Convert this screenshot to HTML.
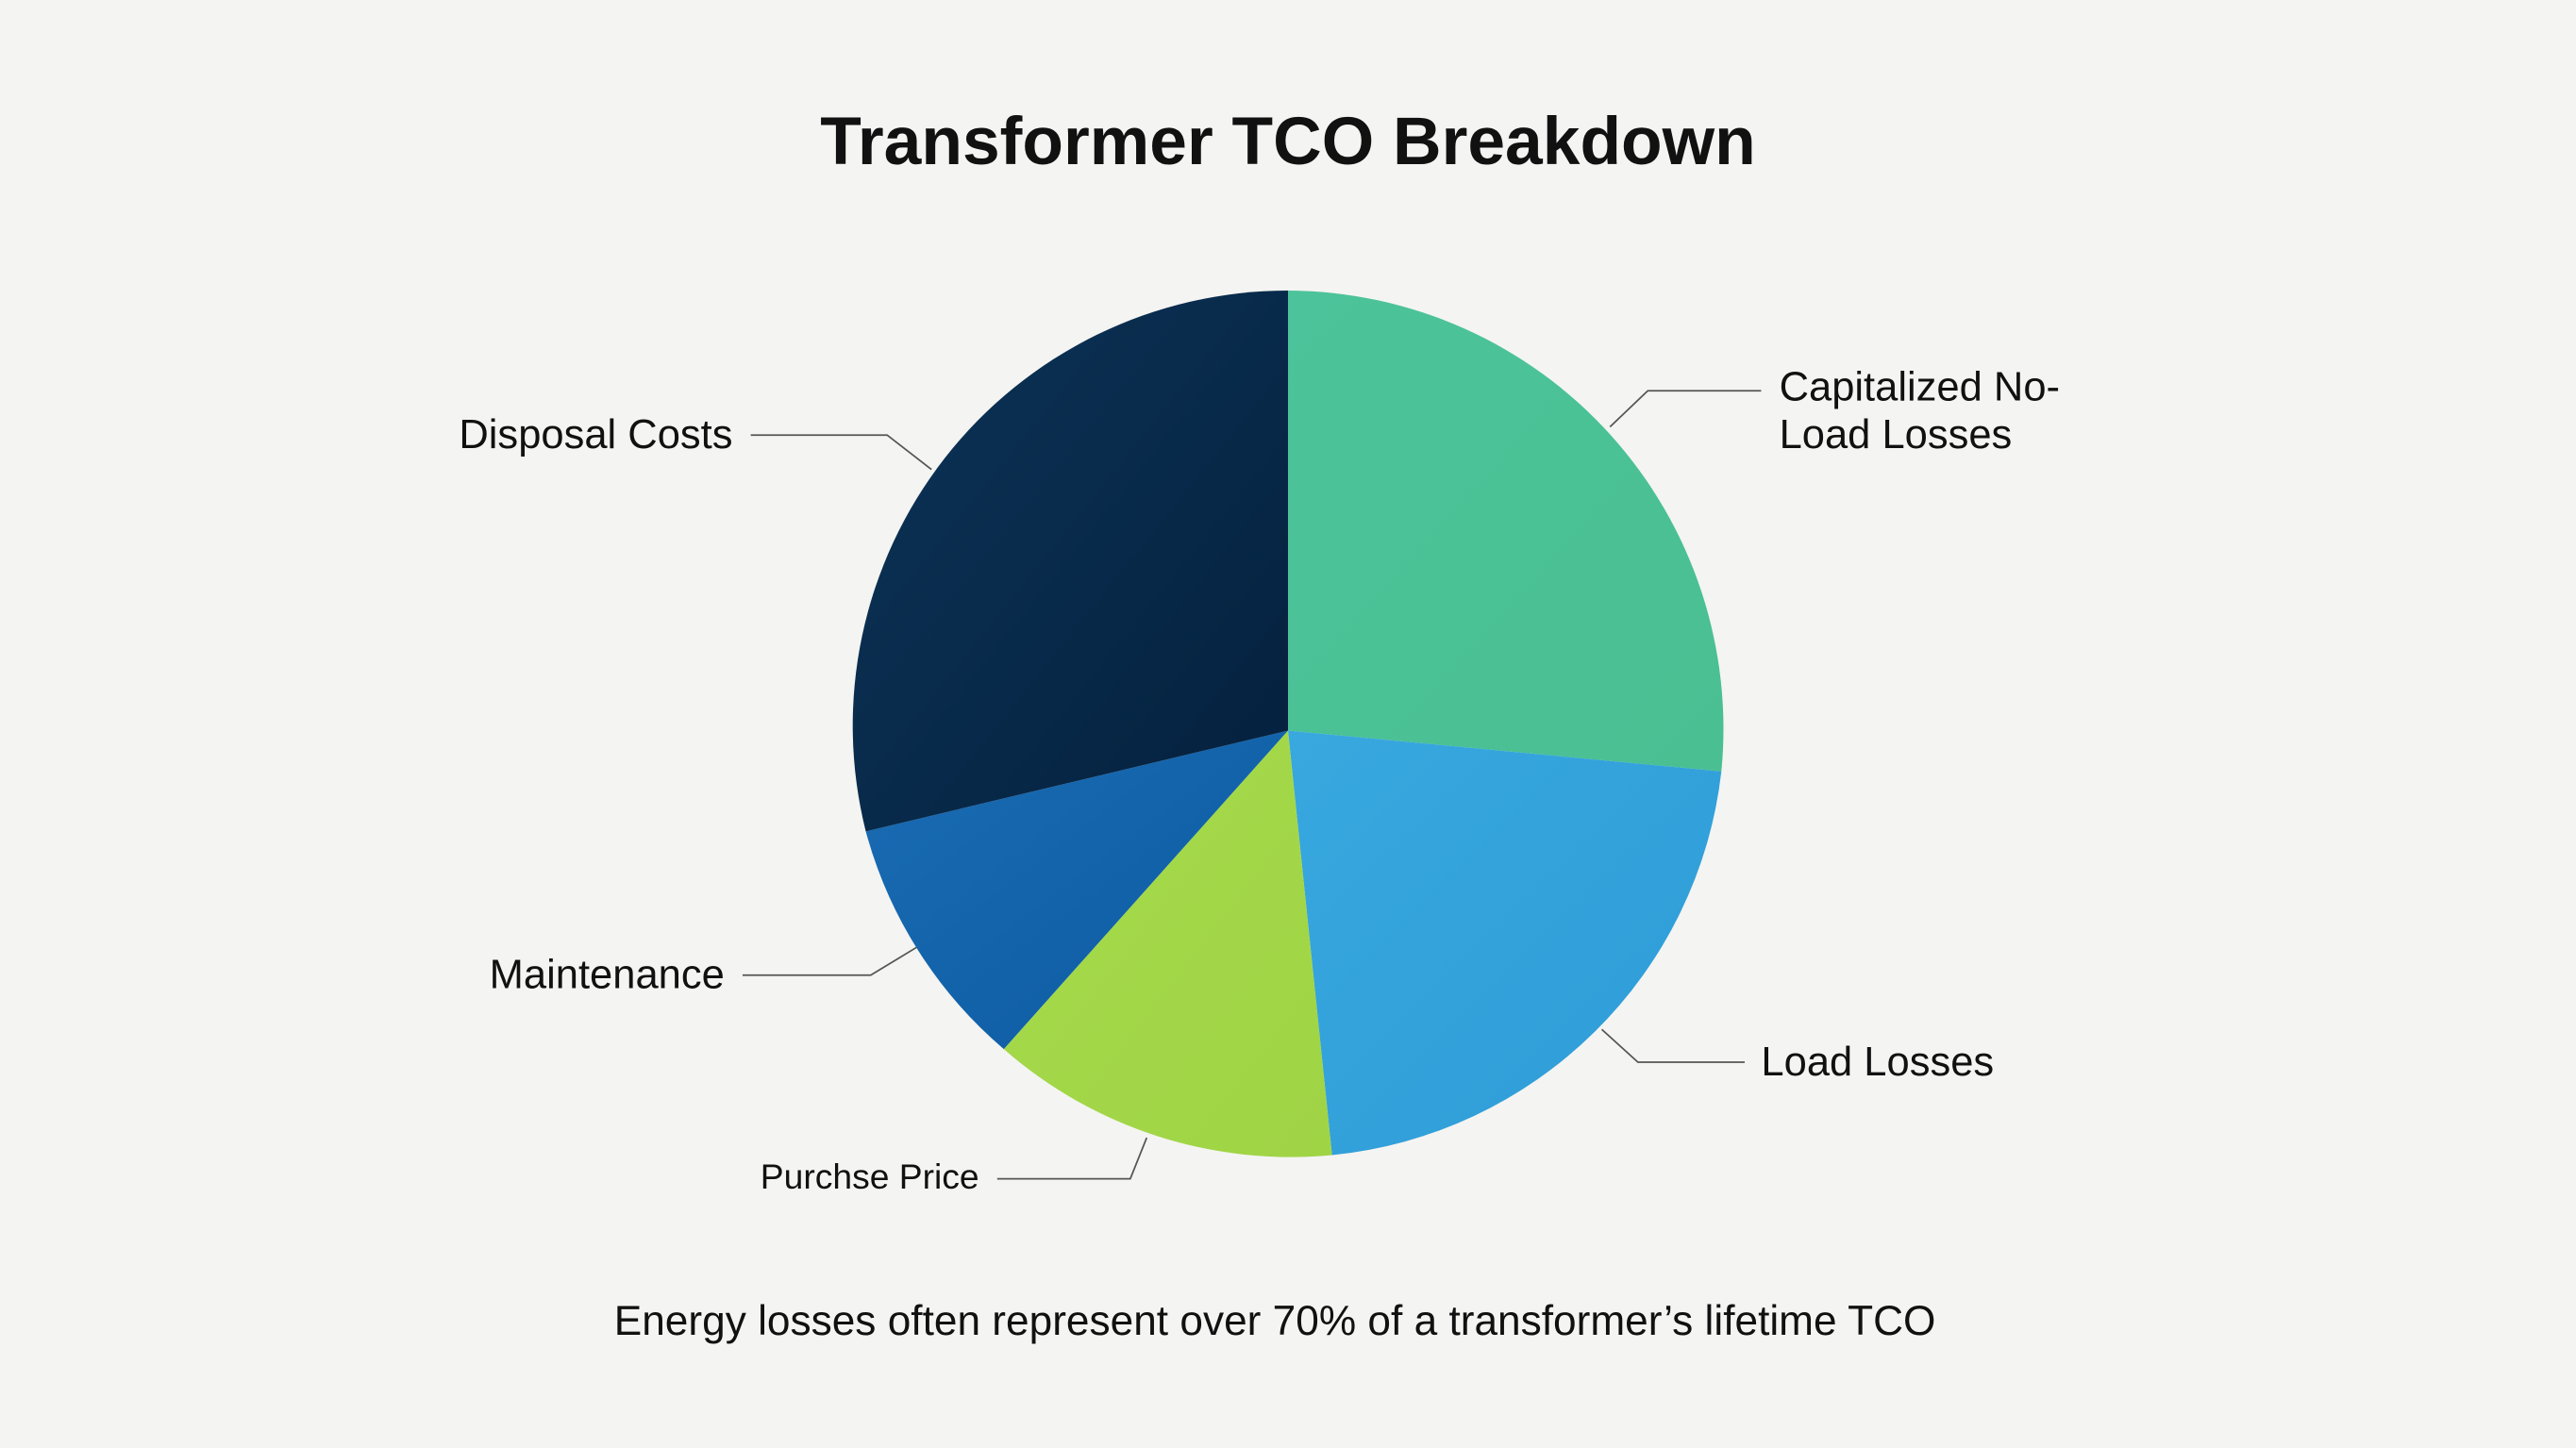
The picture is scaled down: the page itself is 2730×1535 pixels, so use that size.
<!DOCTYPE html>
<html><head><meta charset="utf-8"><style>
html,body{margin:0;padding:0;background:#f4f4f2;}
svg{display:block}
text{font-family:"Liberation Sans",sans-serif;fill:#111;}
</style></head><body>
<svg width="2730" height="1535" viewBox="0 0 1568 882" preserveAspectRatio="none" xmlns="http://www.w3.org/2000/svg">
<defs>
<linearGradient id="gd" x1="0" y1="0" x2="1" y2="1"><stop offset="0" stop-color="#0d3458"/><stop offset="1" stop-color="#04203d"/></linearGradient>
<linearGradient id="gc" x1="0" y1="0" x2="1" y2="1"><stop offset="0" stop-color="#4cc39a"/><stop offset="1" stop-color="#4abf92"/></linearGradient>
<linearGradient id="gl" x1="0" y1="0" x2="1" y2="1"><stop offset="0" stop-color="#38a8df"/><stop offset="1" stop-color="#2e9bd6"/></linearGradient>
<linearGradient id="gp" x1="0" y1="0" x2="1" y2="1"><stop offset="0" stop-color="#a6da4c"/><stop offset="1" stop-color="#9fd445"/></linearGradient>
<linearGradient id="gm" x1="0" y1="0" x2="1" y2="1"><stop offset="0" stop-color="#1a6cb3"/><stop offset="1" stop-color="#0c5aa2"/></linearGradient>
</defs>
<rect width="1568" height="882" fill="#f4f4f2"/>
<text x="784" y="100" text-anchor="middle" font-size="41" font-weight="bold">Transformer TCO Breakdown</text>
<path d="M784,445 L784,177 A266,267 0 0 1 1047.8,469.9 Z" fill="url(#gc)"/>
<path d="M784,445 L1047.8,469.9 A265,265 0 0 1 810.8,703.6 Z" fill="url(#gl)"/>
<path d="M784,445 L810.8,703.6 A265,265 0 0 1 611,639 Z" fill="url(#gp)"/>
<path d="M784,445 L611,639 A265,265 0 0 1 527,506.4 Z" fill="url(#gm)"/>
<path d="M784,445 L527,506.4 A265,265 0 0 1 784,177 Z" fill="url(#gd)"/>
<g stroke="#555" stroke-width="1" fill="none">
<polyline points="980,260 1003,238 1072,238"/>
<polyline points="975,627 997,647 1062,647"/>
<polyline points="698,693 688,718 607,718"/>
<polyline points="558,577 530,594 452,594"/>
<polyline points="567,286 540,265 457,265"/>
</g>
<text x="1083" y="244" font-size="25">Capitalized No-</text>
<text x="1083" y="273" font-size="25">Load Losses</text>
<text x="1072" y="655" font-size="25">Load Losses</text>
<text x="596" y="724" font-size="21.4" text-anchor="end">Purchse Price</text>
<text x="441" y="602" font-size="25" text-anchor="end">Maintenance</text>
<text x="446" y="273" font-size="25" text-anchor="end">Disposal Costs</text>
<text x="776" y="813" font-size="25.4" text-anchor="middle">Energy losses often represent over 70% of a transformer’s lifetime TCO</text>
</svg>
</body></html>
